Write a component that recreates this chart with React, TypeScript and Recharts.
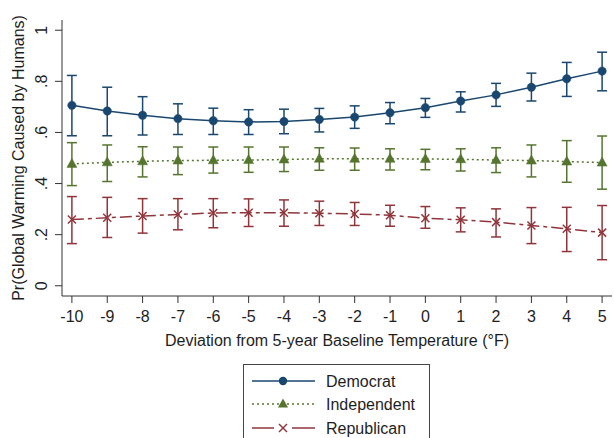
import React from 'react';
import { LineChart, Line, XAxis, YAxis, ErrorBar, Legend, Label } from 'recharts';

const deviations = [-10, -9, -8, -7, -6, -5, -4, -3, -2, -1, 0, 1, 2, 3, 4, 5];

const demMean = [0.706, 0.684, 0.667, 0.654, 0.646, 0.641, 0.643, 0.651, 0.66, 0.677, 0.697, 0.723, 0.747, 0.777, 0.81, 0.84];
const demLow = [0.587, 0.587, 0.59, 0.592, 0.592, 0.592, 0.595, 0.602, 0.616, 0.634, 0.659, 0.68, 0.702, 0.723, 0.741, 0.763];
const demHigh = [0.823, 0.777, 0.74, 0.712, 0.695, 0.689, 0.691, 0.694, 0.704, 0.717, 0.733, 0.759, 0.792, 0.832, 0.874, 0.914];

const indMean = [0.477, 0.483, 0.487, 0.49, 0.491, 0.492, 0.494, 0.497, 0.497, 0.497, 0.496, 0.495, 0.492, 0.49, 0.486, 0.482];
const indLow = [0.392, 0.408, 0.426, 0.435, 0.441, 0.444, 0.447, 0.452, 0.452, 0.453, 0.454, 0.449, 0.443, 0.426, 0.405, 0.378];
const indHigh = [0.56, 0.551, 0.544, 0.543, 0.543, 0.543, 0.543, 0.54, 0.539, 0.536, 0.534, 0.536, 0.54, 0.551, 0.568, 0.586];

const repMean = [0.259, 0.266, 0.273, 0.279, 0.285, 0.286, 0.286, 0.284, 0.281, 0.276, 0.264, 0.258, 0.249, 0.236, 0.223, 0.208];
const repLow = [0.165, 0.189, 0.206, 0.219, 0.227, 0.232, 0.233, 0.236, 0.236, 0.233, 0.225, 0.211, 0.191, 0.165, 0.134, 0.102];
const repHigh = [0.349, 0.346, 0.341, 0.341, 0.341, 0.34, 0.336, 0.331, 0.326, 0.315, 0.31, 0.305, 0.301, 0.306, 0.307, 0.314];

const yTicks = [0, 0.2, 0.4, 0.6, 0.8, 1];
const yTickLabels = ['0', '.2', '.4', '.6', '.8', '1'];
const seriesNames = ['Democrat', 'Independent', 'Republican'];
const xTitle = 'Deviation from 5-year Baseline Temperature (°F)';
const yTitle = 'Pr(Global Warming Caused by Humans)';

const NAVY = '#1a476f';
const GREEN = '#55752f';
const MAROON = '#90353b';
const AXIS = '#333333';
const TEXT = '#1e1e1e';
const FS = 16;
const FONT = '"Liberation Sans", Arial, Helvetica, sans-serif';

const data = deviations.map((x, i) => ({
  x,
  dem: demMean[i],
  demErr: [demMean[i] - demLow[i], demHigh[i] - demMean[i]],
  ind: indMean[i],
  indErr: [indMean[i] - indLow[i], indHigh[i] - indMean[i]],
  rep: repMean[i],
  repErr: [repMean[i] - repLow[i], repHigh[i] - repMean[i]],
}));

const fmtY = (v: number) => {
  let best = 0;
  for (let i = 0; i < yTicks.length; i++) {
    if (Math.abs(yTicks[i] - v) < Math.abs(yTicks[best] - v)) best = i;
  }
  return yTickLabels[best];
};

const CircleDot = (props: any) => {
  const { cx, cy } = props;
  if (cx == null || cy == null) return null;
  return <circle cx={cx} cy={cy} r={4.2} fill={NAVY} stroke={NAVY} strokeWidth={0.5} />;
};

const TriDot = (props: any) => {
  const { cx, cy } = props;
  if (cx == null || cy == null) return null;
  return (
    <polygon
      points={`${cx},${cy - 5.5} ${cx - 5},${cy + 3.5} ${cx + 5},${cy + 3.5}`}
      fill={GREEN}
      stroke={GREEN}
      strokeWidth={0.5}
    />
  );
};

const XDot = (props: any) => {
  const { cx, cy } = props;
  if (cx == null || cy == null) return null;
  const s = 4;
  return (
    <g stroke={MAROON} strokeWidth={1.5}>
      <line x1={cx - s} y1={cy - s} x2={cx + s} y2={cy + s} />
      <line x1={cx - s} y1={cy + s} x2={cx + s} y2={cy - s} />
    </g>
  );
};

const YTick = (props: any) => {
  const { y, payload } = props;
  const cx = 42;
  return (
    <text
      x={cx}
      y={y}
      transform={`rotate(-90, ${cx}, ${y})`}
      textAnchor="middle"
      dominantBaseline="central"
      fontSize={FS}
      fontFamily={FONT}
      fill={TEXT}
    >
      {fmtY(payload.value)}
    </text>
  );
};

const YTitle = (props: any) => {
  const vb = props.viewBox || {};
  const cy = (vb.y || 20) + (vb.height || 276) / 2;
  const cx = 18;
  return (
    <text
      x={cx}
      y={cy}
      transform={`rotate(-90, ${cx}, ${cy})`}
      textAnchor="middle"
      dominantBaseline="central"
      fontSize={FS}
      fontFamily={FONT}
      fill={TEXT}
    >
      {yTitle}
    </text>
  );
};

const LegendBox = () => (
  <svg width={188} height={74} style={{ display: 'block' }}>
    <rect x={0.5} y={0.5} width={186} height={90} fill="#fff" stroke="#444" strokeWidth={1} />
    <line x1={9} y1={17} x2={72} y2={17} stroke={NAVY} strokeWidth={1.5} />
    <circle cx={40} cy={17} r={4.2} fill={NAVY} />
    <text x={83} y={17} dominantBaseline="central" fontSize={FS} fontFamily={FONT} fill={TEXT}>
      {seriesNames[0]}
    </text>
    <line x1={9} y1={40} x2={72} y2={40} stroke={GREEN} strokeWidth={1.5} strokeDasharray="2 3" />
    <polygon points="40,34.5 35,43.5 45,43.5" fill={GREEN} />
    <text x={83} y={40} dominantBaseline="central" fontSize={FS} fontFamily={FONT} fill={TEXT}>
      {seriesNames[1]}
    </text>
    <line x1={9} y1={64} x2={31} y2={64} stroke={MAROON} strokeWidth={1.5} />
    <line x1={49} y1={64} x2={72} y2={64} stroke={MAROON} strokeWidth={1.5} />
    <g stroke={MAROON} strokeWidth={1.5}>
      <line x1={36} y1={60} x2={44} y2={68} />
      <line x1={36} y1={68} x2={44} y2={60} />
    </g>
    <text x={83} y={64} dominantBaseline="central" fontSize={FS} fontFamily={FONT} fill={TEXT}>
      {seriesNames[2]}
    </text>
  </svg>
);

export default function App() {
  return (
    <div style={{ position: 'absolute', left: 0, top: 0, width: 614, height: 438, background: '#fff', fontFamily: FONT }}>
      <LineChart width={614} height={438} data={data} margin={{ top: 20, right: 2, left: 0, bottom: 92 }}>
        <XAxis
          dataKey="x"
          type="number"
          domain={[-10.28, 5.28]}
          ticks={deviations}
          interval={0}
          allowDataOverflow
          stroke={AXIS}
          tickLine={{ stroke: AXIS }}
          tickSize={7}
          tickMargin={8}
          height={50}
          tick={{ fontSize: FS, fontFamily: FONT, fill: TEXT }}
          label={{
            value: xTitle,
            position: 'insideBottom',
            offset: 0,
            fontSize: FS,
            fontFamily: FONT,
            fill: TEXT,
          }}
        />
        <YAxis
          type="number"
          domain={[-0.04, 1.04]}
          ticks={yTicks}
          allowDataOverflow
          width={62}
          stroke={AXIS}
          tickLine={{ stroke: AXIS }}
          tickSize={7}
          tick={<YTick />}
        >
          <Label content={<YTitle />} />
        </YAxis>
        <Legend
          verticalAlign="middle"
          align="center"
          content={() => <LegendBox />}
          wrapperStyle={{ position: 'absolute', left: 243, top: 364, width: 188, height: 74 }}
        />
        <Line
          dataKey="rep"
          name={seriesNames[2]}
          stroke={MAROON}
          strokeWidth={1.5}
          strokeDasharray="12 4 4 4"
          dot={<XDot />}
          activeDot={false}
          isAnimationActive={false}
        >
          <ErrorBar dataKey="repErr" width={5} stroke={MAROON} strokeWidth={1.5} direction="y" />
        </Line>
        <Line
          dataKey="ind"
          name={seriesNames[1]}
          stroke={GREEN}
          strokeWidth={1.5}
          strokeDasharray="2 3"
          dot={<TriDot />}
          activeDot={false}
          isAnimationActive={false}
        >
          <ErrorBar dataKey="indErr" width={5} stroke={GREEN} strokeWidth={1.5} direction="y" />
        </Line>
        <Line
          dataKey="dem"
          name={seriesNames[0]}
          stroke={NAVY}
          strokeWidth={1.5}
          dot={<CircleDot />}
          activeDot={false}
          isAnimationActive={false}
        >
          <ErrorBar dataKey="demErr" width={5} stroke={NAVY} strokeWidth={1.5} direction="y" />
        </Line>
      </LineChart>
    </div>
  );
}
